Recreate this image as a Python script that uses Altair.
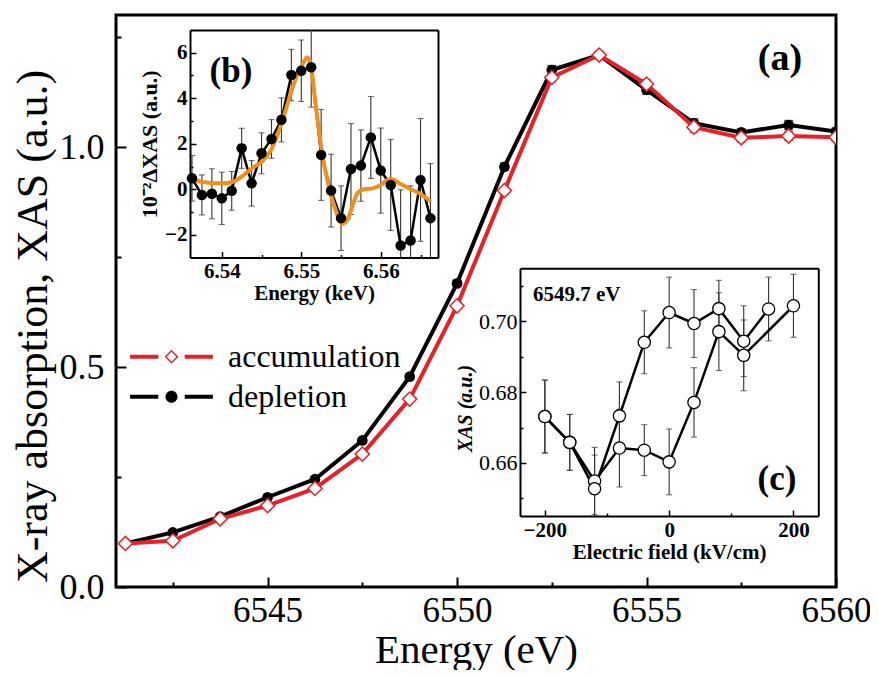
import altair as alt
import pandas as pd

SERIF = "Liberation Serif"
RED = "#E8202A"
ORANGE = "#F28E1C"
GREY = "#333333"

# ---------------- panel (a): main XAS spectra ----------------
energy_ev = [6541.25, 6542.5, 6543.75, 6545.0, 6546.25, 6547.5, 6548.75, 6550.0,
             6551.25, 6552.5, 6553.75, 6555.0, 6556.25, 6557.5, 6558.75, 6560.0]
xas_depletion = [0.099, 0.124, 0.160, 0.204, 0.245, 0.333, 0.478, 0.690,
                 0.955, 1.175, 1.209, 1.130, 1.054, 1.033, 1.050, 1.035]
err_depletion = [0.006, 0.006, 0.006, 0.006, 0.006, 0.006, 0.006, 0.007,
                 0.008, 0.010, 0.008, 0.010, 0.010, 0.008, 0.010, 0.008]
xas_accumulation = [0.099, 0.105, 0.155, 0.185, 0.224, 0.302, 0.427, 0.639,
                    0.901, 1.158, 1.209, 1.143, 1.045, 1.021, 1.025, 1.022]
err_accumulation = [0.006, 0.006, 0.006, 0.006, 0.006, 0.006, 0.006, 0.007,
                    0.008, 0.010, 0.008, 0.010, 0.012, 0.010, 0.010, 0.008]
series_names = ["accumulation", "depletion"]

# ---------------- panel (b): difference spectrum ----------------
energy_kev = [6.53625, 6.5375, 6.53875, 6.54, 6.54125, 6.5425, 6.54375, 6.545,
              6.54625, 6.5475, 6.54875, 6.55, 6.55125, 6.5525, 6.55375, 6.555,
              6.55625, 6.5575, 6.55875, 6.56, 6.56125, 6.5625, 6.56375, 6.565, 6.56625]
delta_xas = [0.48, -0.25, -0.20, -0.40, -0.07, 1.80, 0.26, 1.58, 2.21, 3.05, 5.02, 5.21,
             5.36, 1.51, -0.06, -1.27, 0.89, 1.04, 2.28, 0.82, 0.19, -2.47, -2.25, 0.41, -1.27]
delta_err = [1.0, 0.88, 1.1, 1.15, 0.85, 0.88, 1.0, 0.9, 0.85, 0.97, 1.13, 1.35,
             1.75, 2.0, 1.6, 1.42, 2.0, 1.57, 1.8, 1.87, 2.0, 2.45, 2.4, 2.7, 2.4]
fit_energy_kev = [6.536, 6.53832, 6.54, 6.54126, 6.54253, 6.54379, 6.54505, 6.54632,
                  6.54737, 6.54842, 6.54947, 6.55032, 6.55074, 6.55116, 6.55179, 6.55263,
                  6.55347, 6.55432, 6.55516, 6.55579, 6.55642, 6.55705, 6.55789, 6.55895,
                  6.56, 6.56084, 6.56147, 6.56232, 6.56358, 6.56484, 6.56632]
fit_delta = [0.44, 0.29, 0.26, 0.31, 0.56, 0.92, 1.22, 1.80, 2.75, 3.92, 5.02, 5.6, 5.8,
             5.53, 3.78, 1.58, 0.12, -0.91, -1.52, -1.35, -0.76, -0.18, 0.0, 0.04, 0.19,
             0.41, 0.44, 0.26, 0.04, -0.18, -0.54]

# ---------------- panel (c): field dependence at 6549.7 eV ----------------
field_up = [-200, -160, -120, -80, -40, 0, 40, 80, 120, 200]
xas_up = [0.6731, 0.6658, 0.6549, 0.6642, 0.6636, 0.6603, 0.6771, 0.6971, 0.6904, 0.7044]
err_up = [0.0103, 0.0079, 0.0095, 0.011, 0.0072, 0.0093, 0.0098, 0.011, 0.010, 0.0089]
field_down = [160, 120, 80, 40, 0, -40, -80, -120, -160, -200]
xas_down = [0.7035, 0.6944, 0.7036, 0.6994, 0.7025, 0.6941, 0.6733, 0.6527, 0.6658, 0.6731]
err_down = [0.009, 0.010, 0.008, 0.0096, 0.010, 0.0089, 0.0096, 0.0095, 0.0079, 0.0103]

# tick values
a_x_ticks = [6545, 6550, 6555, 6560]
a_x_minor = [6542.5, 6547.5, 6552.5, 6557.5]
a_y_ticks = [0.0, 0.5, 1.0]
a_y_minor = [0.25, 0.75, 1.25]
b_x_ticks = [6.54, 6.55, 6.56]
b_x_minor = [6.545, 6.555, 6.565]
b_y_ticks = [-2, 0, 2, 4, 6]
b_y_minor = [-1, 1, 3, 5]
c_x_ticks = [-200, 0, 200]
c_x_minor = [-100, 100]
c_y_ticks = [0.66, 0.68, 0.70]
c_y_minor = [0.65, 0.67, 0.69, 0.71]

W, H = 720, 572

# legend symbols: dash - marker - dash
PATH_ACC = ("M-6.9,-0.33L-2.2,-0.33L-2.2,0.33L-6.9,0.33Z "
            "M2.2,-0.33L6.9,-0.33L6.9,0.33L2.2,0.33Z "
            "M0,-1.15L1.15,0L0,1.15L-1.15,0Z M0,-0.82L-0.82,0L0,0.82L0.82,0Z")
PATH_DEP = ("M-6.9,-0.33L-2.2,-0.33L-2.2,0.33L-6.9,0.33Z "
            "M2.2,-0.33L6.9,-0.33L6.9,0.33L2.2,0.33Z "
            "M1,0A1,1 0 1,1 -1,0A1,1 0 1,1 1,0Z")


def axis(orient, offset=0, values=None, fmt=None, tick=None, tick_w=1.5, labels=False,
         label_size=21, label_weight="bold", label_pad=4, title=None, title_size=21,
         title_weight="bold", title_pad=3, title_style=None, title_x=None, title_y=None,
         title_baseline=None, domain=True, domain_w=2):
    a = dict(orient=orient, offset=offset, grid=False, domain=domain, labels=labels,
             ticks=tick is not None, title=title)
    if domain:
        a.update(domainColor="black", domainWidth=domain_w)
    if values is not None:
        a["values"] = values
    if tick is not None:
        a.update(tickSize=alt.ExprRef(expr=str(-tick)), tickWidth=tick_w, tickColor="black")
    if labels:
        a.update(labelFont=SERIF, labelFontSize=label_size, labelFontWeight=label_weight,
                 labelColor="black", labelPadding=label_pad + (tick or 0),
                 labelOverlap=False, labelFlush=False)
        if fmt:
            a["format"] = fmt
    if title is not None:
        a.update(titleFont=SERIF, titleFontSize=title_size, titleFontWeight=title_weight,
                 titleColor="black", titlePadding=title_pad)
        if title_style:
            a["titleFontStyle"] = title_style
        if title_x is not None:
            a["titleX"] = title_x
        if title_y is not None:
            a["titleY"] = title_y
        if title_baseline:
            a["titleBaseline"] = title_baseline
    return alt.Axis(**a)


def X(field, scale, ax=None):
    return alt.X(field + ":Q", scale=scale, axis=ax)


def Y(field, scale, ax=None):
    return alt.Y(field + ":Q", scale=scale, axis=ax)


def errbars(df, xs, ys, color, cap, lo_clip, hi_clip, width=1.2, clip=False):
    base = alt.Chart(df).transform_calculate(
        lo=f"max(datum.v - datum.e, {lo_clip})",
        hi=f"min(datum.v + datum.e, {hi_clip})",
    )
    rule = base.mark_rule(color=color, strokeWidth=width, clip=clip).encode(
        x=X("E", xs), y=Y("lo", ys), y2=alt.Y2("hi:Q"))
    t_lo = base.transform_filter(f"datum.v - datum.e >= {lo_clip}").mark_tick(
        color=color, orient="horizontal", size=cap, thickness=width, clip=clip).encode(
        x=X("E", xs), y=Y("lo", ys))
    t_hi = base.transform_filter(f"datum.v + datum.e <= {hi_clip}").mark_tick(
        color=color, orient="horizontal", size=cap, thickness=width, clip=clip).encode(
        x=X("E", xs), y=Y("hi", ys))
    return [rule, t_lo, t_hi]


def label(text, x, y, size, align="center", weight="bold"):
    return alt.Chart(alt.Data(values=[{}])).mark_text(
        text=text, font=SERIF, fontSize=size, fontWeight=weight, align=align,
        baseline="middle", color="black").encode(x=alt.value(x), y=alt.value(y))


# ---------------- panel (a) ----------------
df_dep = pd.DataFrame({"E": energy_ev, "v": xas_depletion, "e": err_depletion})
df_acc = pd.DataFrame({"E": energy_ev, "v": xas_accumulation, "e": err_accumulation})
df_leg = pd.DataFrame({"E": energy_ev + energy_ev,
                       "v": xas_accumulation + xas_depletion,
                       "series": [series_names[0]] * len(energy_ev) + [series_names[1]] * len(energy_ev)})

xs_a = alt.Scale(domain=[6541, 6560], nice=False, zero=False)
ys_a = alt.Scale(domain=[0, 1.3], nice=False, zero=False)

ax_a_x = axis("bottom", values=a_x_ticks, fmt="d", tick=10, tick_w=2, labels=True,
              label_size=35, label_weight="normal", label_pad=6, title="Energy (eV)",
              title_size=41, title_weight="normal", title_y=75,
              title_baseline="alphabetic", domain=False)
ax_a_xm = axis("bottom", values=a_x_minor, tick=5, tick_w=2, domain=False)
ax_a_y = axis("left", values=a_y_ticks, fmt=".1f", tick=10, tick_w=2, labels=True,
              label_size=36, label_weight="normal", label_pad=12,
              title="X-ray absorption, XAS (a.u.)", title_size=44, title_weight="normal",
              title_x=-83, title_y=311, title_baseline="middle", domain=False)
ax_a_ym = axis("left", values=a_y_minor, tick=5, tick_w=2, domain=False)

leg = alt.Legend(orient="none", legendX=39.5, legendY=325.7, title=None, padding=0,
                 rowPadding=8, labelFont=SERIF, labelFontSize=32, labelColor="black",
                 labelOffset=40.5, symbolSize=144, symbolStrokeWidth=0, symbolOpacity=1,
                 labelLimit=0)

a_layers = [
    alt.Chart(df_dep).mark_line(color="black", strokeWidth=4, clip=True).encode(
        x=X("E", xs_a, ax_a_x), y=Y("v", ys_a, ax_a_y)),
    alt.Chart(df_dep).mark_point(opacity=0).encode(
        x=X("E", xs_a, ax_a_xm), y=Y("v", ys_a, ax_a_ym)),
    *errbars(df_dep, xs_a, ys_a, "black", 9, 0, 1.3, width=1.5, clip=True),
    alt.Chart(df_dep).mark_circle(color="black", size=115, opacity=1, clip=True).encode(
        x=X("E", xs_a), y=Y("v", ys_a)),
    alt.Chart(df_acc).mark_line(color=RED, strokeWidth=4, clip=True).encode(
        x=X("E", xs_a), y=Y("v", ys_a)),
    *errbars(df_acc, xs_a, ys_a, RED, 9, 0, 1.3, width=1.5, clip=True),
    alt.Chart(df_acc).mark_point(shape="diamond", filled=True, fill="white", stroke=RED,
                                 strokeWidth=1.5, size=200, opacity=1, clip=True).encode(
        x=X("E", xs_a), y=Y("v", ys_a)),
    alt.Chart(df_leg).mark_point(filled=True, opacity=0).encode(
        x=X("E", xs_a), y=Y("v", ys_a),
        color=alt.Color("series:N", scale=alt.Scale(domain=series_names, range=[RED, "black"]), legend=leg),
        shape=alt.Shape("series:N", scale=alt.Scale(domain=series_names, range=[PATH_ACC, PATH_DEP]), legend=leg)),
    label("(a)", 664, 44, 38),
]
panel_a = alt.layer(*a_layers).resolve_axis(x="independent", y="independent")

# ---------------- panel (b) ----------------
df_b = pd.DataFrame({"E": energy_kev, "v": delta_xas, "e": delta_err})
df_fit = pd.DataFrame({"E": fit_energy_kev, "v": fit_delta})
xs_b = alt.Scale(domain=[6.536, 6.5672], range=[74, 322], nice=False, zero=False)
ys_b = alt.Scale(domain=[-3, 7], range=[242.5, 15], nice=False, zero=False)

ax_b_x = axis("bottom", offset=242.5 - H, values=b_x_ticks, fmt=".2f", tick=6, labels=True,
              label_pad=3, title="Energy (keV)", title_pad=1)
ax_b_xm = axis("bottom", offset=242.5 - H, values=b_x_minor, tick=3, domain=False)
ax_b_xt = axis("top", offset=-15, values=b_x_ticks)
ax_b_y = axis("left", offset=-74, values=b_y_ticks, fmt="d", tick=6, labels=True,
              label_pad=3, title="10⁻²ΔXAS (a.u.)", title_size=22, title_pad=3)
ax_b_ym = axis("left", offset=-74, values=b_y_minor, tick=3, domain=False)
ax_b_yr = axis("right", offset=322 - W, values=b_y_ticks)

b_layers = [
    *errbars(df_b, xs_b, ys_b, GREY, 6, -3, 7, width=1.1),
    alt.Chart(df_b).mark_line(color="black", strokeWidth=2.5).encode(
        x=X("E", xs_b, ax_b_x), y=Y("v", ys_b, ax_b_y)),
    alt.Chart(df_b).mark_point(opacity=0).encode(
        x=X("E", xs_b, ax_b_xm), y=Y("v", ys_b, ax_b_ym)),
    alt.Chart(df_b).mark_point(opacity=0).encode(
        x=X("E", xs_b, ax_b_xt), y=Y("v", ys_b, ax_b_yr)),
    alt.Chart(df_fit).mark_line(color=ORANGE, strokeWidth=4, interpolate="monotone").encode(
        x=X("E", xs_b), y=Y("v", ys_b)),
    alt.Chart(df_b).mark_circle(color="black", size=110, opacity=1).encode(
        x=X("E", xs_b), y=Y("v", ys_b)),
    label("(b)", 115, 56, 35),
]
panel_b = alt.layer(*b_layers).resolve_axis(x="independent", y="independent")

# ---------------- panel (c) ----------------
df_up = pd.DataFrame({"E": field_up, "v": xas_up, "e": err_up})
df_down = pd.DataFrame({"E": field_down, "v": xas_down, "e": err_down})
xs_c = alt.Scale(domain=[-240, 240], range=[404, 702.3], nice=False, zero=False)
ys_c = alt.Scale(domain=[0.645, 0.715], range=[501, 253.3], nice=False, zero=False)

ax_c_x = axis("bottom", offset=501 - H, values=c_x_ticks, fmt="d", tick=6, labels=True,
              label_pad=3, title="Electric field (kV/cm)", title_pad=1)
ax_c_xm = axis("bottom", offset=501 - H, values=c_x_minor, tick=3, domain=False)
ax_c_xt = axis("top", offset=-253.3, values=c_x_ticks)
ax_c_y = axis("left", offset=-404, values=c_y_ticks, fmt=".2f", tick=6, labels=True,
              label_weight="normal", label_size=22, label_pad=3, title="XAS (a.u.)",
              title_size=20, title_style="italic", title_pad=3, title_y=393)
ax_c_ym = axis("left", offset=-404, values=c_y_minor, tick=3, domain=False)
ax_c_yr = axis("right", offset=702.3 - W, values=c_y_ticks)

c_layers = [
    *errbars(df_up, xs_c, ys_c, GREY, 6, 0.645, 0.715, width=1.1),
    *errbars(df_down, xs_c, ys_c, GREY, 6, 0.645, 0.715, width=1.1),
    alt.Chart(df_up).mark_line(color="black", strokeWidth=2.5).encode(
        x=X("E", xs_c, ax_c_x), y=Y("v", ys_c, ax_c_y)),
    alt.Chart(df_down).mark_line(color="black", strokeWidth=2.5).encode(
        x=X("E", xs_c, ax_c_xm), y=Y("v", ys_c, ax_c_ym)),
    alt.Chart(df_up).mark_point(opacity=0).encode(
        x=X("E", xs_c, ax_c_xt), y=Y("v", ys_c, ax_c_yr)),
    alt.Chart(df_up).mark_point(filled=True, fill="white", stroke="black", strokeWidth=1.3,
                                size=150, opacity=1).encode(x=X("E", xs_c), y=Y("v", ys_c)),
    alt.Chart(df_down).mark_point(filled=True, fill="white", stroke="black", strokeWidth=1.3,
                                  size=150, opacity=1).encode(x=X("E", xs_c), y=Y("v", ys_c)),
    label("6549.7 eV", 417, 280, 21, align="left"),
    label("(c)", 661, 464, 35),
]
panel_c = alt.layer(*c_layers).resolve_axis(x="independent", y="independent")

chart = alt.layer(panel_a, panel_b, panel_c).resolve_scale(
    x="independent", y="independent"
).properties(
    width=W, height=H, background="white",
    autosize=alt.AutoSizeParams(type="none"),
    padding={"left": 108, "top": 7, "right": 34, "bottom": 83},
).configure_view(stroke="black", strokeWidth=3)

chart.save("out.html", embed_options={"renderer": "svg", "actions": False})
